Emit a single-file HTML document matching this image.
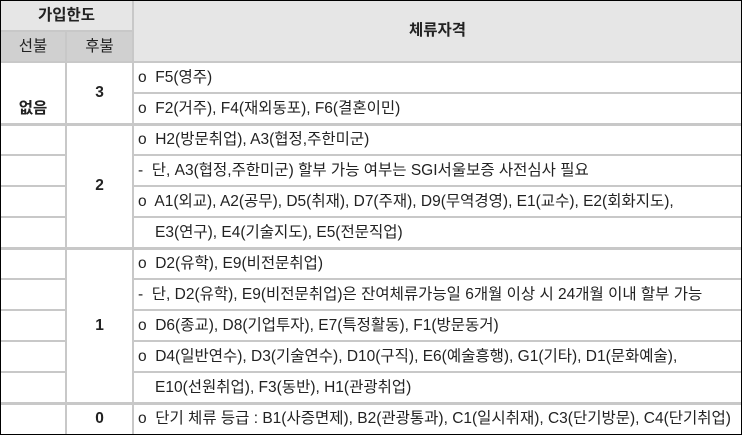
<!DOCTYPE html>
<html><head><meta charset="utf-8"><style>
body{margin:0;width:742px;height:435px;overflow:hidden;background:#fff;font-family:"Liberation Sans","Noto Sans CJK KR","NanumGothic",sans-serif;font-size:15.5px;color:#222}
.a{position:absolute}
.h{background:#c8c8c8}
.t{position:absolute;white-space:pre;line-height:31px;height:31px;z-index:3}
.c{text-align:center;font-weight:bold}
</style></head><body>
<div class="a" style="left:0;top:0;width:742px;height:435px">
<div class="a" style="left:0;top:0;width:742px;height:62px;background:#e6e6e6"></div>
<div class="a" style="left:0;top:31px;width:133px;height:31px;background:#d0d0d0"></div>
<div class="t c" style="left:0;top:0;width:133px">가입한도</div>
<div class="t" style="left:0;top:31px;width:66px;text-align:center">선불</div>
<div class="t" style="left:66px;top:31px;width:67px;text-align:center">후불</div>
<div class="t c" style="left:133px;top:15px;width:609px">체류자격</div>
<div class="t c" style="left:0;top:93px;width:66px">없음</div>
<div class="t c" style="left:66px;top:77px;width:67px">3</div>
<div class="t c" style="left:66px;top:170px;width:67px">2</div>
<div class="t c" style="left:66px;top:310px;width:67px">1</div>
<div class="t c" style="left:66px;top:403px;width:67px">0</div>
<div id="rows"></div>
<div class="a h" style="left:0;top:30px;width:133px;height:2px"></div>
<div class="a h" style="left:0;top:61px;width:742px;height:2px"></div>
<div class="a h" style="left:65px;top:31px;width:2px;height:404px"></div>
<div class="a h" style="left:132px;top:0;width:2px;height:435px"></div>
<div class="a" style="left:0;top:0;width:740px;height:433px;border:1px solid #000;z-index:4"></div>
</div>
<script>
const lines=[
["o  F5(영주)",0],["o  F2(거주), F4(재외동포), F6(결혼이민)",0],
["o  H2(방문취업), A3(협정,주한미군)",0],["-  단, A3(협정,주한미군) 할부 가능 여부는 SGI서울보증 사전심사 필요",0],
["o  A1(외교), A2(공무), D5(취재), D7(주재), D9(무역경영), E1(교수), E2(회화지도),",0],["E3(연구), E4(기술지도), E5(전문직업)",1],
["o  D2(유학), E9(비전문취업)",0],["-  단, D2(유학), E9(비전문취업)은 잔여체류가능일 6개월 이상 시 24개월 이내 할부 가능",0],
["o  D6(종교), D8(기업투자), E7(특정활동), F1(방문동거)",0],
["o  D4(일반연수), D3(기술연수), D10(구직), E6(예술흥행), G1(기타), D1(문화예술),",0],["E10(선원취업), F3(동반), H1(관광취업)",1],
["o  단기 체류 등급 : B1(사증면제), B2(관광통과), C1(일시취재), C3(단기방문), C4(단기취업)",0]];
const groupEnds=[2,6,11];
const R=document.getElementById('rows');
lines.forEach((l,i)=>{
 const y=62+i*31;
 const d=document.createElement('div');d.className='t';
 d.style.left=(l[1]?155:138)+'px';d.style.top=y+'px';d.textContent=l[0];
 
 
 R.appendChild(d);
 if(i>0){
  const ln=document.createElement('div');ln.className='a h';
  const g=groupEnds.includes(i);
  ln.style.left=(i===1?133:0)+'px';ln.style.width=(i===1?609:742)+'px';
  ln.style.top=(y-1)+'px';ln.style.height=(g?3:2)+'px';
  
  
  R.appendChild(ln);
  if(!g){
   const cov=document.createElement('div');cov.className='a';
   cov.style.cssText='left:67px;top:'+(y-1)+'px;width:65px;height:2px;background:#fff';
   
   
   R.appendChild(cov);
  }
 }
});
</script>
</body></html>
